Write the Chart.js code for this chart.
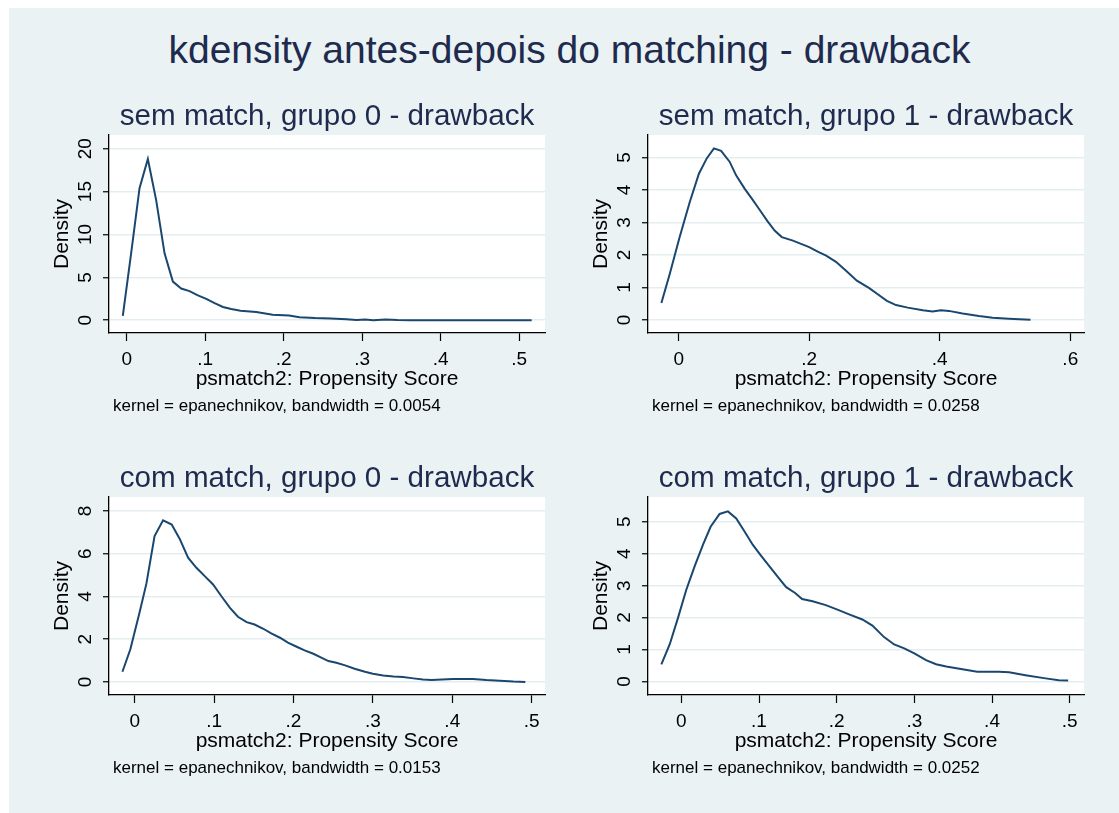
<!DOCTYPE html>
<html>
<head>
<meta charset="utf-8">
<title>kdensity antes-depois do matching - drawback</title>
<script src="https://cdn.jsdelivr.net/npm/chart.js@4.4.0/dist/chart.umd.min.js"></script>
<style>
  html, body { margin: 0; padding: 0; background: #fff; overflow: hidden; }
  #bg { position: absolute; left: 9px; top: 8px; width: 1110px; height: 805px; background: #eaf2f3; }
  #title { position: absolute; left: 20px; top: 30px; width: 1099px; text-align: center;
           font: 39px/39px "Liberation Sans", Arial, sans-serif; color: #1e2a4e; white-space: nowrap; }
  canvas { position: absolute; }
</style>
</head>
<body>
<div id="bg"></div>
<div id="title">kdensity antes-depois do matching - drawback</div>
<canvas id="p1" width="551" height="330" style="left:9px;top:90px"></canvas>
<canvas id="p2" width="551" height="330" style="left:548px;top:90px"></canvas>
<canvas id="p3" width="551" height="330" style="left:9px;top:452px"></canvas>
<canvas id="p4" width="551" height="330" style="left:548px;top:452px"></canvas>
<script>
// sem match, grupo 0
const semG0X = [-0.005, 0.0056, 0.0163, 0.0269, 0.0375, 0.0482, 0.0588, 0.0694, 0.080, 0.0907,
  0.1013, 0.112, 0.1226, 0.1332, 0.145, 0.165, 0.186, 0.207, 0.22, 0.24, 0.26, 0.28, 0.293,
  0.304, 0.314, 0.33, 0.345, 0.36, 0.40, 0.45, 0.516];
const semG0Y = [0.5, 7.8, 15.4, 18.8, 14.0, 7.8, 4.5, 3.7, 3.4, 2.9,
  2.5, 2.0, 1.55, 1.3, 1.1, 0.95, 0.65, 0.55, 0.35, 0.25, 0.2, 0.12, 0.04,
  0.08, 0.0, 0.08, 0.02, 0.0, 0.0, 0.0, 0.0];

// sem match, grupo 1
const semG1X = [-0.0265, -0.0138, 0.0015, 0.017, 0.031, 0.043, 0.054, 0.065, 0.078, 0.088,
  0.101, 0.114, 0.124, 0.136, 0.147, 0.158, 0.175, 0.2, 0.213, 0.226, 0.241, 0.256, 0.273,
  0.292, 0.305, 0.319, 0.333, 0.351, 0.374, 0.389, 0.402, 0.414, 0.435, 0.46, 0.481, 0.506, 0.539];
const semG1Y = [0.52, 1.41, 2.55, 3.63, 4.5, 4.97, 5.28, 5.2, 4.87, 4.45,
  4.04, 3.68, 3.39, 3.04, 2.75, 2.55, 2.44, 2.24, 2.1, 1.98, 1.79, 1.52, 1.21,
  0.98, 0.79, 0.59, 0.46, 0.38, 0.30, 0.26, 0.30, 0.28, 0.20, 0.12, 0.07, 0.04, 0.01];

// com match, grupo 0
const comG0X = [-0.0155, -0.0055, 0.006, 0.0147, 0.025, 0.0357, 0.0466, 0.0567, 0.0672, 0.0777,
  0.0882, 0.0987, 0.109, 0.12, 0.13, 0.141, 0.151, 0.162, 0.172, 0.183, 0.193, 0.204, 0.214,
  0.225, 0.235, 0.244, 0.254, 0.265, 0.277, 0.29, 0.30, 0.313, 0.326, 0.338, 0.351, 0.363,
  0.374, 0.387, 0.401, 0.426, 0.443, 0.46, 0.477, 0.492];
const comG0Y = [0.48, 1.53, 3.24, 4.6, 6.82, 7.56, 7.36, 6.69, 5.81, 5.34,
  4.95, 4.56, 4.02, 3.47, 3.05, 2.8, 2.69, 2.49, 2.27, 2.07, 1.84, 1.65, 1.48,
  1.32, 1.14, 0.98, 0.9, 0.78, 0.62, 0.48, 0.39, 0.31, 0.26, 0.23, 0.17, 0.12,
  0.09, 0.12, 0.14, 0.14, 0.09, 0.06, 0.02, 0.0];

// com match, grupo 1
const comG1X = [-0.0257, -0.015, -0.0043, 0.0064, 0.0171, 0.0278, 0.0377, 0.0493, 0.06, 0.0707,
  0.0814, 0.0921, 0.1028, 0.1135, 0.1242, 0.135, 0.1465, 0.1555, 0.169, 0.186, 0.201, 0.216,
  0.233, 0.246, 0.261, 0.274, 0.287, 0.30, 0.315, 0.328, 0.341, 0.358, 0.381, 0.409, 0.422,
  0.443, 0.469, 0.486, 0.498];
const comG1Y = [0.54, 1.16, 1.99, 2.87, 3.6, 4.27, 4.84, 5.24, 5.32, 5.1,
  4.69, 4.27, 3.93, 3.6, 3.27, 2.95, 2.77, 2.58, 2.51, 2.39, 2.25, 2.1,
  1.94, 1.75, 1.39, 1.16, 1.04, 0.88, 0.67, 0.54, 0.47, 0.40, 0.31, 0.31, 0.29,
  0.20, 0.10, 0.04, 0.03];

// tick values and labels
const xTicksA = [0, 0.1, 0.2, 0.3, 0.4, 0.5];
const xLabelsA = ['0', '.1', '.2', '.3', '.4', '.5'];
const xTicksB = [0, 0.2, 0.4, 0.6];
const xLabelsB = ['0', '.2', '.4', '.6'];
const yTicks1 = [0, 5, 10, 15, 20];
const yTicks2 = [0, 1, 2, 3, 4, 5];
const yTicks3 = [0, 2, 4, 6, 8];
const yTicks4 = [0, 1, 2, 3, 4, 5];

const FONT = '"Liberation Sans", Arial, sans-serif';
const lineColor = '#1a476f';
const gridColor = '#e4eef0';
const titleColor = '#1e2a4e';

// plot region background, panel title and kernel note
const panelText = {
  id: 'panelText',
  beforeDraw(chart, args, opts) {
    const { ctx, chartArea: a } = chart;
    ctx.save();
    ctx.fillStyle = '#fff';
    ctx.fillRect(a.left, a.top, a.right - a.left, a.bottom - a.top);
    ctx.restore();
  },
  afterDraw(chart, args, opts) {
    const { ctx, chartArea: a } = chart;
    ctx.save();
    ctx.fillStyle = titleColor;
    ctx.font = '29.6px ' + FONT;
    ctx.textAlign = 'center';
    ctx.textBaseline = 'alphabetic';
    ctx.fillText(opts.title, (a.left + a.right) / 2, a.top - 10);
    ctx.fillStyle = '#000';
    ctx.font = '17px ' + FONT;
    ctx.textAlign = 'left';
    ctx.fillText(opts.note, a.left + 4, a.bottom + 78);
    ctx.restore();
  }
};

const measure = document.createElement('canvas').getContext('2d');
measure.font = '19px ' + FONT;

function makePanel(id, title, note, xs, ys, xr, yr, xTicks, xLabels, yTicks) {
  const widest = Math.max(...yTicks.map(v => measure.measureText(String(v)).width));
  new Chart(document.getElementById(id), {
    type: 'line',
    data: {
      datasets: [{
        data: xs.map((x, i) => ({ x: x, y: ys[i] })),
        borderColor: lineColor,
        borderWidth: 2,
        pointRadius: 0,
        tension: 0,
        fill: false
      }]
    },
    options: {
      responsive: false,
      animation: false,
      layout: { padding: { top: 45, right: 15, bottom: 30, left: 0 } },
      plugins: {
        legend: { display: false },
        tooltip: { enabled: false },
        panelText: { title: title, note: note }
      },
      scales: {
        x: {
          type: 'linear',
          min: xr[0], max: xr[1],
          afterBuildTicks: s => { s.ticks = xTicks.map(v => ({ value: v })); },
          afterFit: s => { s.height = 57; },
          ticks: {
            autoSkip: false, maxRotation: 0, padding: 9, color: '#000',
            font: { family: FONT, size: 19, lineHeight: 1 },
            callback: (v, i) => xLabels[i]
          },
          grid: { drawOnChartArea: false, drawTicks: true, tickLength: 8, tickColor: '#000', tickWidth: 1.2 },
          border: { display: true, color: '#000', width: 1.3 },
          title: {
            display: true, text: 'psmatch2: Propensity Score', color: '#000',
            font: { family: FONT, size: 21, lineHeight: 1 }, padding: { top: 0, bottom: 0 }
          }
        },
        y: {
          type: 'linear',
          min: yr[0], max: yr[1],
          afterBuildTicks: s => { s.ticks = yTicks.map(v => ({ value: v })); },
          afterFit: s => { s.width = 100; },
          ticks: {
            autoSkip: false, minRotation: 90, maxRotation: 90, crossAlign: 'center',
            padding: 23.5 - 6 - widest / 2, color: '#000',
            font: { family: FONT, size: 19, lineHeight: 1 },
            callback: v => String(v)
          },
          grid: { color: gridColor, lineWidth: 1.5, tickLength: 6, tickColor: '#000', tickWidth: 1.2 },
          border: { display: true, color: '#000', width: 1.3 },
          title: {
            display: true, text: 'Density', color: '#000',
            font: { family: FONT, size: 21, lineHeight: 1 }, padding: { top: 43, bottom: 0 }
          }
        }
      }
    },
    plugins: [panelText]
  });
}

makePanel('p1', 'sem match, grupo 0 - drawback', 'kernel = epanechnikov, bandwidth = 0.0054',
  semG0X, semG0Y, [-0.0226, 0.533], [-1.49, 21.6], xTicksA, xLabelsA, yTicks1);
makePanel('p2', 'sem match, grupo 1 - drawback', 'kernel = epanechnikov, bandwidth = 0.0258',
  semG1X, semG1Y, [-0.047, 0.621], [-0.40, 5.69], xTicksB, xLabelsB, yTicks2);
makePanel('p3', 'com match, grupo 0 - drawback', 'kernel = epanechnikov, bandwidth = 0.0153',
  comG0X, comG0Y, [-0.0324, 0.5168], [-0.607, 8.65], xTicksA, xLabelsA, yTicks3);
makePanel('p4', 'com match, grupo 1 - drawback', 'kernel = epanechnikov, bandwidth = 0.0252',
  comG1X, comG1Y, [-0.0429, 0.5184], [-0.42, 5.77], xTicksA, xLabelsA, yTicks4);
</script>
</body>
</html>
